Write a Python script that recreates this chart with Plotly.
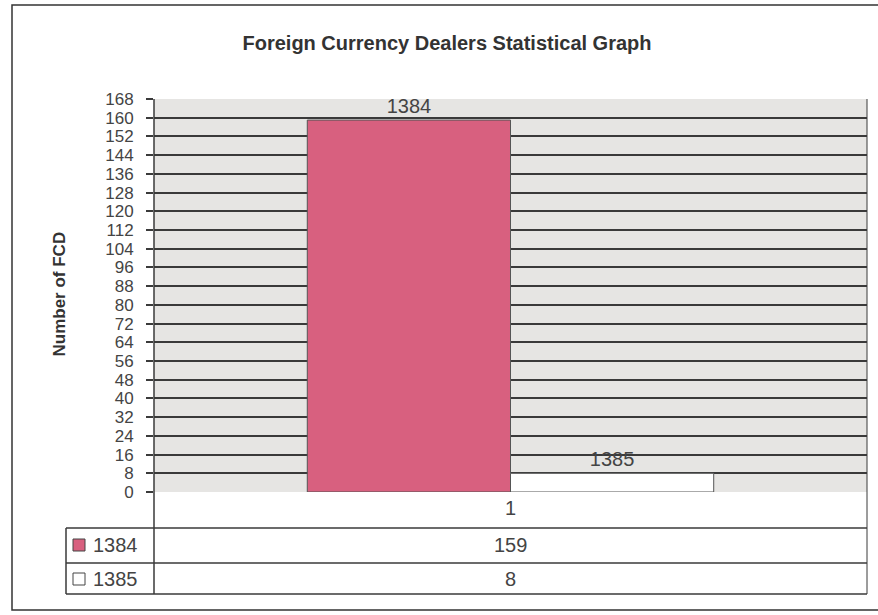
import plotly.graph_objects as go

categories = ["1"]
series_names = ["1384", "1385"]
series_values = [[159], [8]]
series_colors = ["#d8607f", "#ffffff"]
tick_values = list(range(0, 169, 8))
grid_values = list(range(0, 161, 8))

W, H = 878, 615
L, R, T, B = 154, 11, 99, 123
pw, ph = W - L - R, H - T - B

def px(x):
    return (x - L) / pw

def py(y):
    return (H - B - y) / ph

FONT = "Liberation Sans, Arial, sans-serif"
LINE = "#3a3a3a"

fig = go.Figure()
for name, vals, col in zip(series_names, series_values, series_colors):
    fig.add_trace(go.Bar(
        x=categories, y=vals, name=name,
        marker=dict(color=col, line=dict(color="#555555", width=1)),
        text=[name] * len(vals), textposition="outside",
        textfont=dict(family=FONT, size=20, color="#444444"),
        cliponaxis=False, showlegend=False,
    ))
# overlay axis for the dark gridlines (0..160)
fig.add_trace(go.Scatter(x=categories, y=[0], yaxis="y2", mode="markers",
                         marker=dict(opacity=0), showlegend=False, hoverinfo="skip"))

fig.update_layout(
    width=W, height=H,
    margin=dict(l=L, r=R, t=T, b=B),
    paper_bgcolor="white",
    plot_bgcolor="#e6e5e3",
    barmode="group", bargap=0.43, bargroupgap=0,
    title=dict(text="<b>Foreign Currency Dealers Statistical Graph</b>",
               x=447 / W, xanchor="center", y=1 - 43 / H, yanchor="middle",
               font=dict(family=FONT, size=20, color="#333333")),
    xaxis=dict(showgrid=False, showline=False, ticks="",
               tickfont=dict(family=FONT, size=20, color="#444444"),
               ticklabelstandoff=2),
    yaxis=dict(range=[0, 168], tickmode="array", tickvals=tick_values,
               showgrid=False, zeroline=False, showline=False,
               ticks="outside", ticklen=7, tickcolor=LINE, tickwidth=1.5,
               ticklabelstandoff=9,
               tickfont=dict(family=FONT, size=17, color="#444444")),
    yaxis2=dict(range=[0, 168], overlaying="y", tickmode="array", tickvals=grid_values,
                showgrid=True, gridcolor=LINE, gridwidth=1.5, zeroline=False,
                showticklabels=False, showline=False),
)

shapes = []
def line(x0, y0, x1, y1, w=1.5):
    shapes.append(dict(type="line", xref="paper", yref="paper",
                       x0=px(x0), y0=py(y0), x1=px(x1), y1=py(y1),
                       line=dict(color=LINE, width=w)))

# axis line extending into table
line(154, 99, 154, 594)
# plot right edge + table right edge
line(867, 99, 867, 594, 1)
# table horizontal lines
line(66, 528, 867, 528)
line(66, 563, 867, 563)
line(66, 594, 867, 594)
line(66, 528, 66, 594)
# outer frame
shapes.append(dict(type="rect", xref="paper", yref="paper",
                   x0=px(12), y0=py(610), x1=px(884), y1=py(5),
                   line=dict(color="#333333", width=1.5), layer="below"))
# legend keys
row_centers = [545, 579]
for yc, col in zip(row_centers, series_colors):
    shapes.append(dict(type="rect", xref="paper", yref="paper",
                       x0=px(73), y0=py(yc + 6), x1=px(85), y1=py(yc - 6),
                       fillcolor=col, line=dict(color="#444444", width=1)))

annotations = [dict(text="<b>Number of FCD</b>", textangle=-90, xref="paper", yref="paper",
                    x=px(47), y=py(294), showarrow=False,
                    font=dict(family=FONT, size=17, color="#333333"))]
for yc, name, vals in zip(row_centers, series_names, series_values):
    annotations.append(dict(text=name, xref="paper", yref="paper", x=px(91), y=py(yc),
                            xanchor="left", yanchor="middle", showarrow=False,
                            font=dict(family=FONT, size=20, color="#444444")))
    annotations.append(dict(text=str(vals[0]), xref="paper", yref="paper",
                            x=px(510), y=py(yc), xanchor="center", yanchor="middle",
                            showarrow=False,
                            font=dict(family=FONT, size=20, color="#444444")))

fig.update_layout(shapes=shapes, annotations=annotations)
fig.write_html("out.html", config={"displayModeBar": False},
               post_script="document.body.style.margin='0px';document.body.style.overflow='hidden';")
